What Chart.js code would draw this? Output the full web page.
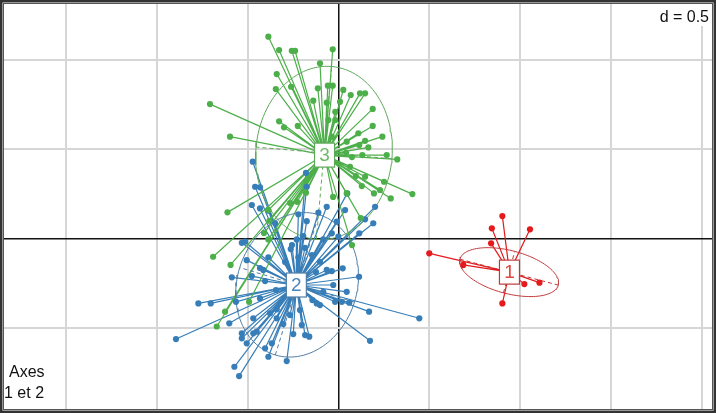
<!DOCTYPE html>
<html>
<head>
<meta charset="utf-8">
<script src="https://cdn.jsdelivr.net/npm/chart.js@4.4.1/dist/chart.umd.min.js"></script>
<style>
html, body { margin: 0; padding: 0; background: #fff; }
canvas { display: block; }
</style>
</head>
<body>
<canvas id="chart" width="716" height="413"></canvas>
<script>
// classes 1, 2, 3 (axes 1 and 2), grid step d = 0.5
const classLabels = ["1", "2", "3"];

const class1X = [0.499, 0.686, 0.839, 0.843, 0.901, 1.053, 1.022, 1.105, 0.901];
const class1Y = [-0.081, -0.146, -0.025, 0.059, 0.127, 0.053, -0.253, -0.245, -0.361];

const class2X = [-0.459, -0.432, -0.477, -0.432, -0.386, -0.221, -0.175, -0.065, 0.036, 0.048,
  0.201, 0.191, 0.146, 0.114, -0.010, -0.037, -0.084, -0.532, -0.514, -0.386,
  -0.505, -0.263, -0.221, -0.102, 0.023, -0.065, -0.037, -0.587, -0.477, -0.404,
  0.113, 0.045, 0.018, 0.059, -0.102, -0.771, -0.703, -0.564, -0.432, 0.168,
  0.444, -0.469, -0.601, -0.340, -0.202, -0.184, -0.161, -0.249, -0.532, -0.532,
  -0.505, -0.469, -0.450, -0.404, -0.386, -0.285, -0.367, -0.894, 0.173, -0.573,
  -0.547, -0.472, -0.179, -0.175, -0.111, -0.001, -0.230, -0.194, -0.414, -0.084,
  -0.144, -0.120, -0.029, -0.340, -0.304, -0.377, -0.019, -0.349,
  -0.256, -0.184, -0.146, -0.294, -0.124, -0.212, -0.267, -0.344, -0.432];
const class2Y = [0.291, 0.288, 0.189, 0.170, 0.157, 0.137, 0.099, 0.179, 0.161, 0.254,
  0.179, 0.087, 0.109, 0.031, 0.096, 0.031, -0.003, -0.022, -0.016, -0.103,
  -0.119, -0.057, -0.103, -0.128, -0.165, -0.174, -0.180, -0.215, -0.208, -0.236,
  -0.212, -0.296, -0.352, -0.357, -0.370, -0.361, -0.361, -0.352, -0.333, -0.407,
  -0.444, -0.444, -0.472, -0.444, -0.482, -0.538, -0.547, -0.532, -0.528, -0.556,
  -0.584, -0.528, -0.519, -0.612, -0.659, -0.683, -0.584, -0.560, -0.570, -0.715,
  -0.767, 0.431, 0.369, 0.291, 0.146, 0.012, -0.003, 0.016, -0.174, -0.296,
  -0.342, -0.361, -0.258, -0.394, -0.476, -0.416, -0.352, 0.087,
  -0.035, -0.051, -0.091, -0.130, -0.186, -0.398, -0.426, -0.286, -0.163];

const class3X = [-0.386, -0.327, -0.257, -0.239, -0.032, -0.102, -0.340, -0.345, -0.261, -0.114,
  -0.059, -0.032, 0.026, 0.067, 0.118, 0.146, -0.139, -0.065, 0.008, -0.018,
  0.188, -0.707, -0.327, -0.300, -0.224, 0.188, 0.109, 0.146, 0.241, 0.114,
  0.164, -0.597, 0.131, 0.265, 0.323, 0.063, 0.095, 0.128, 0.195, 0.228,
  0.250, 0.406, 0.287, 0.122, 0.074, -0.030, -0.179, -0.267, -0.228, -0.611,
  -0.690, -0.594, -0.410, -0.380, -0.492, -0.624, -0.670, -0.386, 0.074, -0.056,
  -0.018, -0.037, 0.045, 0.041, -0.386, 0.146, 0.045];
const class3Y = [1.130, 1.055, 1.051, 1.051, 1.059, 0.981, 0.921, 0.837, 0.850, 0.841,
  0.856, 0.856, 0.832, 0.804, 0.813, 0.813, 0.772, 0.761, 0.766, 0.710,
  0.726, 0.753, 0.657, 0.623, 0.631, 0.631, 0.590, 0.548, 0.571, 0.524,
  0.511, 0.571, 0.468, 0.468, 0.444, 0.403, 0.351, 0.295, 0.254, 0.273,
  0.319, 0.250, 0.226, 0.116, -0.035, 0.234, 0.258, 0.200, 0.207, 0.148,
  -0.100, -0.146, 0.032, 0.101, -0.352, -0.407, -0.490, -0.003, 0.457, 0.664,
  0.664, 0.571, 0.543, 0.481, 0.161, 0.347, 0.254];

const centroidX = [0.940, -0.232, -0.077];
const centroidY = [-0.186, -0.258, 0.468];

// ellipse of each class: centre, half axes, angle of the first axis (degrees)
const ellipseCX = [0.938, -0.228, -0.080];
const ellipseCY = [-0.186, -0.257, 0.480];
const ellipseA = [0.28, 0.41, 0.485];
const ellipseB = [0.12, 0.33, 0.375];
const ellipseAngle = [-15, 73, 85];

const colors = ["#e41a1c", "#377eb8", "#4daf4a"];
const ellipseColors = ["#c0393a", "#4f7ea6", "#5fa85a"];
const textColors = ["#e0453f", "#4a86bd", "#6fba69"];

const xMin = -1.84, xMax = 2.054, yMin = -0.951, yMax = 1.3125;
const gridStep = 0.5;

const xs = [class1X, class2X, class3X];
const ys = [class1Y, class2Y, class3Y];

function pointsOf(i) {
  return xs[i].map((x, k) => ({ x: x, y: ys[i][k] }));
}

function starOf(i) {
  const out = [];
  xs[i].forEach((x, k) => {
    out.push({ x: x, y: ys[i][k] });
    out.push({ x: centroidX[i], y: centroidY[i] });
    out.push({ x: x, y: null });
  });
  return out;
}

function ellipseOf(i) {
  const t = ellipseAngle[i] * Math.PI / 180;
  const out = [];
  for (let k = 0; k <= 120; k++) {
    const u = 2 * Math.PI * k / 120;
    const ex = ellipseA[i] * Math.cos(u), ey = ellipseB[i] * Math.sin(u);
    out.push({
      x: ellipseCX[i] + ex * Math.cos(t) - ey * Math.sin(t),
      y: ellipseCY[i] + ex * Math.sin(t) + ey * Math.cos(t)
    });
  }
  return out;
}

function ellipseAxesOf(i) {
  const t = ellipseAngle[i] * Math.PI / 180;
  const cx = ellipseCX[i], cy = ellipseCY[i], a = ellipseA[i], b = ellipseB[i];
  return [
    { x: cx - a * Math.cos(t), y: cy - a * Math.sin(t) },
    { x: cx + a * Math.cos(t), y: cy + a * Math.sin(t) },
    { x: cx, y: null },
    { x: cx + b * Math.sin(t), y: cy - b * Math.cos(t) },
    { x: cx - b * Math.sin(t), y: cy + b * Math.cos(t) }
  ];
}

const datasets = [];
// lower order is drawn on top
[0, 1, 2].forEach(i => {
  const rank = 3 - i; // green over blue over red
  datasets.push({
    data: pointsOf(i), showLine: false,
    pointRadius: 3.1, pointBackgroundColor: colors[i], pointBorderWidth: 0,
    order: rank
  });
  datasets.push({
    data: ellipseOf(i), showLine: true, borderColor: ellipseColors[i], borderWidth: 1,
    pointRadius: 0, tension: 0, order: 10 + rank
  });
  datasets.push({
    data: ellipseAxesOf(i), showLine: true, borderColor: ellipseColors[i], borderWidth: 1,
    borderDash: [4, 3], pointRadius: 0, spanGaps: false, order: 20 + rank
  });
  datasets.push({
    data: starOf(i), showLine: true, borderColor: colors[i], borderWidth: 1.2,
    pointRadius: 0, spanGaps: false, order: 30 + rank
  });
});

function gridTicks(scale) {
  const ticks = [];
  for (let v = Math.ceil(scale.min / gridStep) * gridStep; v <= scale.max + 1e-9; v += gridStep) {
    ticks.push({ value: Math.round(v * 100) / 100 });
  }
  scale.ticks = ticks;
}

const gridOpts = {
  color: c => (c.tick && c.tick.value === 0) ? "#111" : "#d6d6d6",
  lineWidth: c => (c.tick && c.tick.value === 0) ? 1.5 : 2,
  drawTicks: false
};

const labelPlugin = {
  id: "classLabels",
  afterDatasetsDraw(chart) {
    const { ctx, scales } = chart;
    ctx.save();
    classLabels.forEach((lab, i) => {
      const px = scales.x.getPixelForValue(centroidX[i]);
      const py = scales.y.getPixelForValue(centroidY[i]);
      const w = 20, h = 24;
      ctx.fillStyle = "#fff";
      ctx.fillRect(px - w / 2, py - h / 2, w, h);
      ctx.strokeStyle = ellipseColors[i];
      ctx.lineWidth = 1.2;
      ctx.strokeRect(px - w / 2, py - h / 2, w, h);
      ctx.fillStyle = textColors[i];
      ctx.font = "19px 'Liberation Sans', Arial, sans-serif";
      ctx.textAlign = "center";
      ctx.textBaseline = "middle";
      ctx.fillText(lab, px, py + 1);
    });
    ctx.restore();
  },
  afterDraw(chart) {
    const { ctx, chartArea } = chart;
    ctx.save();
    ctx.font = "16px 'Liberation Sans', Arial, sans-serif";
    ctx.textBaseline = "alphabetic";
    ctx.textAlign = "right";
    const dw = ctx.measureText("d = 0.5").width;
    ctx.fillStyle = "#fff";
    ctx.fillRect(chartArea.right - dw - 6, chartArea.top, dw + 6, 22);
    ctx.fillStyle = "#111";
    ctx.fillText("d = 0.5", chartArea.right - 3, chartArea.top + 18);
    ctx.textAlign = "left";
    ctx.fillStyle = "#fff";
    ctx.fillRect(chartArea.left, chartArea.bottom - 48, 48, 48);
    ctx.fillStyle = "#111";
    ctx.fillText("Axes", chartArea.left + 5, chartArea.bottom - 32);
    ctx.fillText("1 et 2", chartArea.left, chartArea.bottom - 11);
    // frame
    ctx.strokeStyle = "#333";
    ctx.lineWidth = 2.5;
    ctx.strokeRect(1.25, 1.25, chart.width - 2.5, chart.height - 2.5);
    ctx.lineWidth = 1;
    ctx.strokeStyle = "#555";
    ctx.strokeRect(chartArea.left - 0.5, chartArea.top - 0.5, chartArea.right - chartArea.left + 1, chartArea.bottom - chartArea.top + 1);
    ctx.restore();
  }
};

new Chart(document.getElementById("chart").getContext("2d"), {
  type: "scatter",
  data: { datasets: datasets },
  options: {
    responsive: false,
    animation: false,
    devicePixelRatio: 1,
    layout: { padding: 4 },
    plugins: { legend: { display: false }, tooltip: { enabled: false } },
    scales: {
      x: {
        type: "linear", min: xMin, max: xMax,
        afterBuildTicks: gridTicks,
        ticks: { display: false },
        grid: gridOpts,
        border: { display: false }
      },
      y: {
        type: "linear", min: yMin, max: yMax,
        afterBuildTicks: gridTicks,
        ticks: { display: false },
        grid: gridOpts,
        border: { display: false }
      }
    }
  },
  plugins: [labelPlugin]
});
</script>
</body>
</html>
